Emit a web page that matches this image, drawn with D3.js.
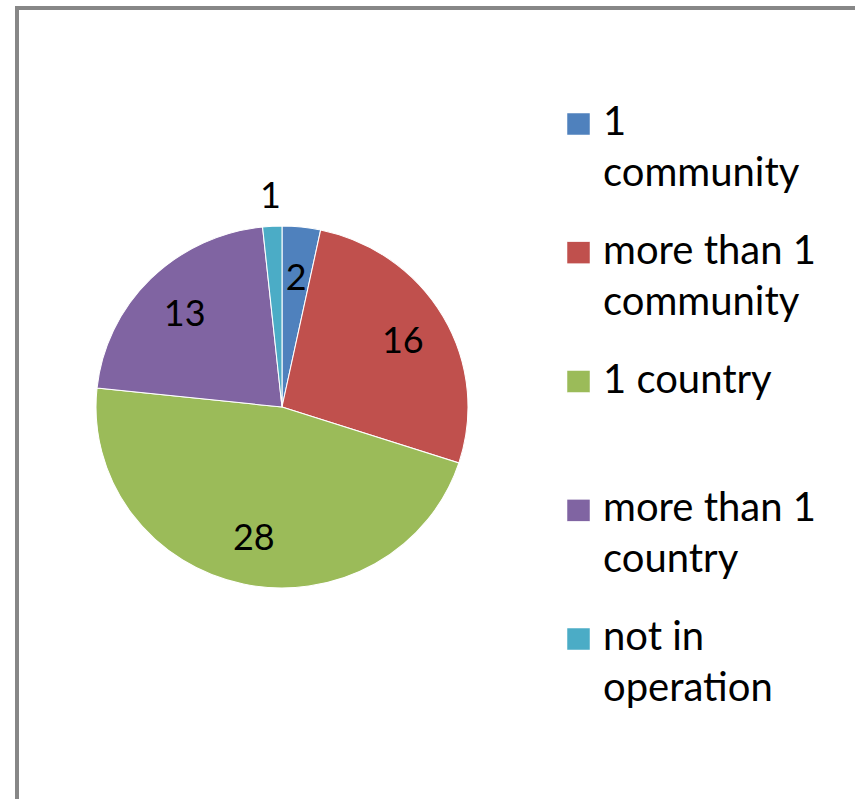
<!DOCTYPE html>
<html>
<head>
<meta charset="utf-8">
<script src="https://cdn.jsdelivr.net/npm/d3@7"></script>
<style>
  body { margin: 0; background: #fff; }
  svg text { font-family: Lato, "Open Sans", sans-serif; fill: #000; }
</style>
</head>
<body>
<div id="chart"></div>
<script>
// Data
const categories = ['1 community', 'more than 1 community', '1 country', 'more than 1 country', 'not in operation'];
const values = [2, 16, 28, 13, 1];
const colors = ['#4F81BD', '#C0504D', '#9BBB59', '#8064A2', '#4BACC6'];
// legend labels, wrapped the way the original shows them
const legendLines = [
  ['1', 'community'],
  ['more than 1', 'community'],
  ['1 country'],
  ['more than 1', 'country'],
  ['not in', 'operation']
];

const W = 855, H = 799;
const svg = d3.select('#chart').append('svg')
  .attr('width', W)
  .attr('height', H);

// chart area frame (runs off the right and bottom edges)
svg.append('rect')
  .attr('x', 17).attr('y', 8)
  .attr('width', W).attr('height', H)
  .attr('fill', 'none')
  .attr('stroke', '#878787')
  .attr('stroke-width', 4);

// Pie
const cx = 282, cy = 407;
const rx = 186, ry = 181; // original pie is slightly stretched horizontally

const pie = d3.pie().sort(null).value(d => d)(values);
const arc = d3.arc().innerRadius(0).outerRadius(ry);

const g = svg.append('g')
  .attr('transform', `translate(${cx},${cy}) scale(${rx / ry},1)`);

g.selectAll('path.slice')
  .data(pie)
  .join('path')
  .attr('class', 'slice')
  .attr('d', arc)
  .attr('fill', (d, i) => colors[i])
  .attr('stroke', '#ffffff')
  .attr('stroke-width', 1);

// data labels: inside for large slices, outside for the tiny one
const labelR = [0.73, 0.75, 0.73, 0.74, 1.18];
const labels = svg.append('g').attr('transform', `translate(${cx},${cy})`);
labels.selectAll('text')
  .data(pie)
  .join('text')
  .attr('x', (d, i) => {
    const a = (d.startAngle + d.endAngle) / 2;
    return Math.sin(a) * rx * labelR[i];
  })
  .attr('y', (d, i) => {
    const a = (d.startAngle + d.endAngle) / 2;
    return -Math.cos(a) * ry * labelR[i];
  })
  .attr('text-anchor', 'middle')
  .attr('dominant-baseline', 'central')
  .style('font-size', '36px')
  .text(d => d.data);

// Legend
const legend = svg.append('g').attr('transform', 'translate(567,0)');
const legendY = d3.scalePoint().domain(categories).range([135, 650]);
const lineH = 51;

const item = legend.selectAll('g.item')
  .data(categories)
  .join('g')
  .attr('class', 'item')
  .attr('transform', d => `translate(0,${legendY(d)})`);

item.append('rect')
  .attr('x', 0).attr('y', -22)
  .attr('width', 23).attr('height', 22)
  .attr('fill', (d, i) => colors[i])
  .attr('stroke', '#ffffff')
  .attr('stroke-width', 0.5);

item.append('text')
  .attr('x', 36)
  .style('font-size', '40px')
  .selectAll('tspan')
  .data((d, i) => legendLines[i])
  .join('tspan')
  .attr('x', 36)
  .attr('y', (d, j) => j * lineH)
  .text(d => d);
</script>
</body>
</html>
